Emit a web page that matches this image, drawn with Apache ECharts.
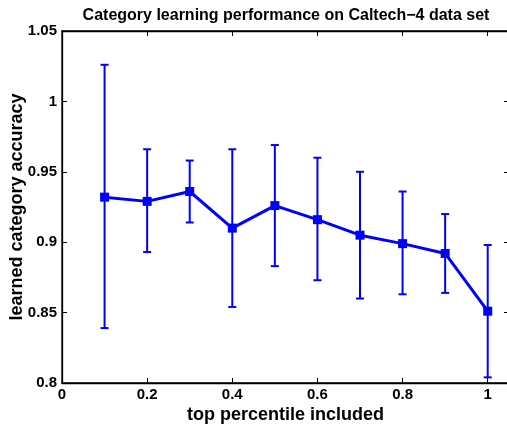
<!doctype html>
<html>
<head>
<meta charset="UTF-8">
<title>Category learning performance</title>
<style>
  html, body { margin: 0; padding: 0; background: #fff; }
  #chart { width: 507px; height: 425px; }
</style>
</head>
<body>
<div id="chart"></div>
<script src="https://cdn.jsdelivr.net/npm/echarts@6/dist/echarts.min.js"></script>
<script>
// top percentile included (x) and accuracy with error bar ends
var percentiles = [0.1, 0.2, 0.3, 0.4, 0.5, 0.6, 0.7, 0.8, 0.9, 1.0];
var meanAcc  = [0.932, 0.929, 0.936, 0.910, 0.926, 0.916, 0.905, 0.899, 0.892, 0.851];
var upperAcc = [1.026, 0.966, 0.958, 0.966, 0.969, 0.960, 0.950, 0.936, 0.920, 0.898];
var lowerAcc = [0.839, 0.893, 0.914, 0.854, 0.883, 0.873, 0.860, 0.863, 0.864, 0.804];

var blue = '#0000ff';
var fontFam = '"Liberation Sans", Arial, sans-serif';

var chart = echarts.init(document.getElementById('chart'));

var lineData = percentiles.map(function (x, i) { return [x, meanAcc[i]]; });
var errData = percentiles.map(function (x, i) { return [x, lowerAcc[i], upperAcc[i]]; });

function fmt(v) { return String(parseFloat(v.toFixed(2))); }

var tickStyle = { inside: true, length: 5, lineStyle: { color: '#000', width: 1 } };
var lineStyleBlack = { show: true, onZero: false, lineStyle: { color: '#000', width: 1.3 } };

var option = {
  animation: false,
  backgroundColor: '#fff',
  title: {
    text: 'Category learning performance on Caltech\u22124 data set',
    left: 281,
    top: 3,
    textAlign: 'center',
    textStyle: { fontFamily: fontFam, fontSize: 16, fontWeight: 'bold', color: '#000' }
  },
  grid: { left: 62, top: 31, width: 447, height: 352, show: true,
    outerBoundsMode: 'none', containLabel: false,
    borderColor: '#000', borderWidth: 1.3, backgroundColor: 'transparent' },
  xAxis: [{
    type: 'value', min: 0, max: 1.05, interval: 0.2,
    name: 'top percentile included', nameLocation: 'middle', nameGap: 23, nameMoveOverlap: false,
    nameTextStyle: { fontFamily: fontFam, fontSize: 18, fontWeight: 'bold', color: '#000' },
    axisLine: lineStyleBlack,
    axisTick: tickStyle,
    splitLine: { show: false },
    axisLabel: { fontFamily: fontFam, fontSize: 15, fontWeight: 'bold', color: '#000', margin: 4,
      showMaxLabel: false, formatter: fmt }
  }, {
    type: 'value', min: 0, max: 1.05, interval: 0.2, position: 'top',
    axisLine: lineStyleBlack,
    axisTick: tickStyle, axisLabel: { show: false }, splitLine: { show: false }
  }],
  yAxis: [{
    type: 'value', min: 0.8, max: 1.05, interval: 0.05,
    name: 'learned category accuracy', nameLocation: 'middle', nameGap: 36, nameMoveOverlap: false,
    nameTextStyle: { fontFamily: fontFam, fontSize: 18, fontWeight: 'bold', color: '#000' },
    axisLine: lineStyleBlack,
    axisTick: tickStyle,
    splitLine: { show: false },
    axisLabel: { fontFamily: fontFam, fontSize: 15, fontWeight: 'bold', color: '#000', margin: 5,
      formatter: fmt }
  }, {
    type: 'value', min: 0.8, max: 1.05, interval: 0.05, position: 'right',
    axisLine: lineStyleBlack,
    axisTick: tickStyle, axisLabel: { show: false }, splitLine: { show: false }
  }],
  series: [{
    type: 'custom',
    name: 'error',
    data: errData,
    z: 2,
    renderItem: function (params, api) {
      var x = api.value(0);
      var lo = api.coord([x, api.value(1)]);
      var hi = api.coord([x, api.value(2)]);
      var cap = 4;
      var st = { stroke: blue, lineWidth: 2 };
      return {
        type: 'group',
        children: [
          { type: 'line', shape: { x1: lo[0], y1: lo[1], x2: hi[0], y2: hi[1] }, style: st },
          { type: 'line', shape: { x1: lo[0] - cap, y1: lo[1], x2: lo[0] + cap, y2: lo[1] }, style: st },
          { type: 'line', shape: { x1: hi[0] - cap, y1: hi[1], x2: hi[0] + cap, y2: hi[1] }, style: st }
        ]
      };
    }
  }, {
    type: 'line',
    name: 'accuracy',
    data: lineData,
    z: 3,
    symbol: 'rect',
    symbolSize: 9,
    itemStyle: { color: blue },
    lineStyle: { color: blue, width: 3 }
  }]
};

chart.setOption(option);
</script>
</body>
</html>
